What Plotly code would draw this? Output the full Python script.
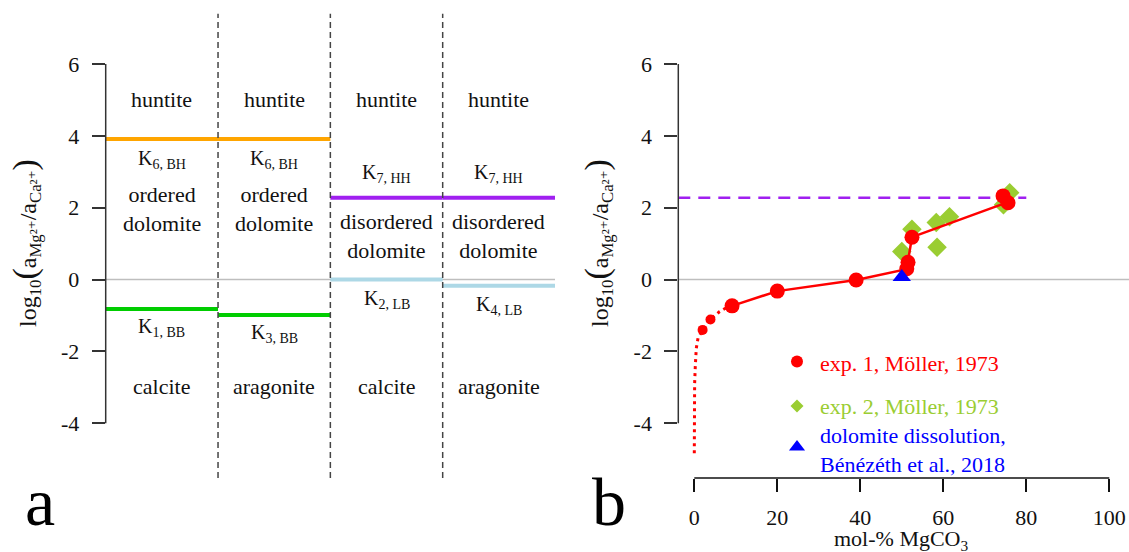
import plotly.graph_objects as go

# ---------------- data ----------------
# Panel a: stability fields
col_edges = [0, 1, 2, 3, 4]
upper_k = [3.91, 3.91, 2.28, 2.28]
upper_colors = ["#FFA500", "#FFA500", "#A020F0", "#A020F0"]
upper_labels = ["K<sub>6, BH</sub>", "K<sub>6, BH</sub>", "K<sub>7, HH</sub>", "K<sub>7, HH</sub>"]
lower_k = [-0.82, -0.985, 0.0, -0.17]
lower_colors = ["#00CD00", "#00CD00", "#ADD8E6", "#ADD8E6"]
lower_labels = ["K<sub>1, BB</sub>", "K<sub>3, BB</sub>", "K<sub>2, LB</sub>", "K<sub>4, LB</sub>"]
top_phase = ["huntite", "huntite", "huntite", "huntite"]
mid_phase = ["ordered<br>dolomite", "ordered<br>dolomite", "disordered<br>dolomite", "disordered<br>dolomite"]
bottom_phase = ["calcite", "aragonite", "calcite", "aragonite"]
y_ticks = [-4, -2, 0, 2, 4, 6]

# Panel b: experiments
exp1_x = [2.0, 3.9, 9.1, 20.0, 39.0, 51.2, 51.5, 52.45, 74.4, 75.6]
exp1_y = [-1.40, -1.11, -0.73, -0.32, -0.01, 0.30, 0.48, 1.18, 2.33, 2.14]
exp1_small = [True, True, False, False, False, False, False, False, False, False]
fit_x = [9.1, 20.0, 39.0, 50.3, 51.4, 52.45, 75.4]
fit_y = [-0.73, -0.32, -0.01, 0.27, 0.45, 1.18, 2.15]
extrap_x = [0.0, 0.03, 0.08, 0.24, 0.48, 0.9, 2.0, 3.9, 6.1, 7.9, 9.1]
extrap_y = [-4.83, -3.6, -2.9, -2.42, -1.91, -1.63, -1.40, -1.11, -0.89, -0.77, -0.73]
exp2_x = [50.0, 52.45, 58.3, 61.5, 58.5, 76.0, 74.5]
exp2_y = [0.78, 1.40, 1.59, 1.75, 0.90, 2.42, 2.08]
diss_x = [50.0]
diss_y = [0.07]
k7_hh = 2.28
k7_xmax = 80
x_ticks = [0, 20, 40, 60, 80, 100]

# ---------------- layout helpers ----------------
W, H = 1129, 552
FONT = "Liberation Serif, Times New Roman, Tinos, DejaVu Serif, serif"
AX = "#333333"
Y_RANGE = [-5.522, 7.782]
X2_RANGE = [-3.855, 104.75]


def px_x(p):
    return p / W


def px_y(p):
    return 1 - p / H


fig = go.Figure()

# ---- panel a ----
fig.add_trace(go.Scatter(x=[col_edges[0], col_edges[-1]], y=[0, 0], mode="lines",
                         line=dict(color="#BEBEBE", width=1.5), xaxis="x", yaxis="y",
                         hoverinfo="skip", showlegend=False))
for i in range(4):
    fig.add_trace(go.Scatter(x=[col_edges[i], col_edges[i + 1]], y=[upper_k[i], upper_k[i]],
                             mode="lines", line=dict(color=upper_colors[i], width=4),
                             xaxis="x", yaxis="y", showlegend=False))
    fig.add_trace(go.Scatter(x=[col_edges[i], col_edges[i + 1]], y=[lower_k[i], lower_k[i]],
                             mode="lines", line=dict(color=lower_colors[i], width=4),
                             xaxis="x", yaxis="y", showlegend=False))
for e in col_edges[1:-1]:
    fig.add_trace(go.Scatter(x=[e, e], y=[Y_RANGE[0], 7.4], mode="lines",
                             line=dict(color="#444444", width=1.5, dash="6px,4px"),
                             xaxis="x", yaxis="y", showlegend=False))

# ---- panel b ----
fig.add_trace(go.Scatter(x=[X2_RANGE[0], X2_RANGE[1]], y=[0, 0], mode="lines",
                         line=dict(color="#BEBEBE", width=1.5), xaxis="x2", yaxis="y2",
                         showlegend=False))
fig.add_trace(go.Scatter(x=[X2_RANGE[0], k7_xmax], y=[k7_hh, k7_hh], mode="lines",
                         line=dict(color="#A020F0", width=2.5, dash="12px,8px"),
                         xaxis="x2", yaxis="y2", showlegend=False))
fig.add_trace(go.Scatter(x=exp2_x, y=exp2_y, mode="markers",
                         marker=dict(symbol="diamond", size=15, color="#9ACD32", opacity=1,
                                     line=dict(width=0)),
                         xaxis="x2", yaxis="y2", showlegend=False))
fig.add_trace(go.Scatter(x=extrap_x, y=extrap_y, mode="lines",
                         line=dict(color="#FF0000", width=3, dash="3px,4px"),
                         xaxis="x2", yaxis="y2", showlegend=False))
fig.add_trace(go.Scatter(x=fit_x, y=fit_y, mode="lines",
                         line=dict(color="#FF0000", width=2.5),
                         xaxis="x2", yaxis="y2", showlegend=False))
fig.add_trace(go.Scatter(x=exp1_x, y=exp1_y, mode="markers",
                         marker=dict(symbol="circle", color="#FF0000", opacity=1,
                                     line=dict(width=0),
                                     size=[10 if s else 15 for s in exp1_small]),
                         xaxis="x2", yaxis="y2", showlegend=False))
fig.add_trace(go.Scatter(x=diss_x, y=diss_y, mode="markers",
                         marker=dict(symbol="triangle-up", size=16, color="#0000FF", opacity=1,
                                     line=dict(width=0)),
                         xaxis="x2", yaxis="y2", showlegend=False))

# legend markers (drawn in panel b)
leg_x = (797 - 694.3) / 4.15
leg_rows = [361.5, 406, 447]
leg_v = [(279.6 - p) / 35.93 for p in leg_rows]
fig.add_trace(go.Scatter(x=[leg_x], y=[leg_v[0]], mode="markers",
                         marker=dict(symbol="circle", size=12, color="#FF0000", line=dict(width=0)),
                         xaxis="x2", yaxis="y2", showlegend=False))
fig.add_trace(go.Scatter(x=[leg_x], y=[leg_v[1]], mode="markers",
                         marker=dict(symbol="diamond", size=10, color="#9ACD32", line=dict(width=0)),
                         xaxis="x2", yaxis="y2", showlegend=False))
fig.add_trace(go.Scatter(x=[leg_x], y=[leg_v[2]], mode="markers",
                         marker=dict(symbol="triangle-up", size=14, color="#0000FF", line=dict(width=0)),
                         xaxis="x2", yaxis="y2", showlegend=False))

# ---- axis lines drawn R-style (only between extreme ticks) ----
shapes = [
    dict(type="line", xref="x domain", x0=0, x1=0, yref="y", y0=y_ticks[0], y1=y_ticks[-1],
         line=dict(color=AX, width=1.5)),
    dict(type="line", xref="x2 domain", x0=0, x1=0, yref="y2", y0=y_ticks[0], y1=y_ticks[-1],
         line=dict(color=AX, width=1.5)),
    dict(type="line", xref="x2", x0=x_ticks[0], x1=x_ticks[-1], yref="y2 domain", y0=0, y1=0,
         line=dict(color="#111111", width=1.5)),
]

annotations = []
tf = dict(family=FONT, size=22, color="#111111")
kf = dict(family=FONT, size=20, color="#111111")
for i in range(4):
    cx = i + 0.5
    annotations.append(dict(x=cx, y=5.0, xref="x", yref="y", text=top_phase[i], showarrow=False, font=tf))
    annotations.append(dict(x=cx, y=1.96 if i < 2 else 1.21, xref="x", yref="y", text=mid_phase[i],
                            showarrow=False, font=tf))
    annotations.append(dict(x=cx, y=-2.97, xref="x", yref="y", text=bottom_phase[i], showarrow=False, font=tf))
    annotations.append(dict(x=cx, y=3.33 if i < 2 else 2.94, xref="x", yref="y", text=upper_labels[i],
                            showarrow=False, font=kf))
    annotations.append(dict(x=cx, y=[-1.32, -1.51, -0.54, -0.71][i], xref="x", yref="y",
                            text=lower_labels[i], showarrow=False, font=kf))

ytitle = ("log<sub>10</sub><span style='font-size:34px'>(</span>a<sub>Mg²⁺</sub>/"
          "a<sub>Ca²⁺</sub><span style='font-size:34px'>)</span>")
for xc in [25, 597]:
    annotations.append(dict(x=px_x(xc), y=px_y(243), xref="paper", yref="paper", text=ytitle,
                            textangle=-90, showarrow=False,
                            font=dict(family=FONT, size=24, color="#111111"),
                            xanchor="center", yanchor="middle"))

annotations.append(dict(x=px_x(901), y=px_y(540), xref="paper", yref="paper", text="mol-% MgCO<sub>3</sub>",
                        showarrow=False, font=tf, xanchor="center", yanchor="middle"))
annotations.append(dict(x=px_x(40), y=px_y(502), xref="paper", yref="paper", text="a",
                        showarrow=False, font=dict(family=FONT, size=68, color="#000000"),
                        xanchor="center", yanchor="middle"))
annotations.append(dict(x=px_x(609), y=px_y(502), xref="paper", yref="paper", text="b",
                        showarrow=False, font=dict(family=FONT, size=68, color="#000000"),
                        xanchor="center", yanchor="middle"))

legend_texts = [("exp. 1, Möller, 1973", "#FF0000", 363),
                ("exp. 2, Möller, 1973", "#9ACD32", 406),
                ("dolomite dissolution,<br>Bénézéth et al., 2018", "#0000FF", 450)]
for txt, col, yy in legend_texts:
    annotations.append(dict(x=px_x(818), y=px_y(yy), xref="paper", yref="paper", text=txt,
                            showarrow=False, xanchor="left", yanchor="middle", align="left",
                            font=dict(family=FONT, size=22, color=col)))

yax = dict(range=Y_RANGE, domain=[px_y(478), 1.0], showgrid=False, zeroline=False, showline=False,
           ticks="outside", ticklen=13, tickwidth=1.5, tickcolor=AX, tickvals=y_ticks,
           ticktext=[str(v) for v in y_ticks], tickfont=dict(family=FONT, size=22, color="#111111"),
           ticklabelstandoff=8, fixedrange=True)

fig.update_layout(
    width=W, height=H, autosize=False,
    font=dict(family=FONT),
    margin=dict(l=0, r=0, t=0, b=0, pad=0),
    paper_bgcolor="white", plot_bgcolor="white",
    showlegend=False,
    xaxis=dict(domain=[px_x(105.7), px_x(555)], range=[0, 4], visible=False, anchor="y"),
    yaxis=dict(anchor="x", **yax),
    xaxis2=dict(domain=[px_x(678.3), 1.0], range=X2_RANGE, anchor="y2", showgrid=False, zeroline=False,
                showline=False, ticks="outside", ticklen=13, tickwidth=1.5, tickcolor="#111111",
                tickvals=x_ticks, ticktext=[str(v) for v in x_ticks],
                tickfont=dict(family=FONT, size=22, color="#111111"), ticklabelstandoff=7),
    yaxis2=dict(anchor="x2", **yax),
    shapes=shapes,
    annotations=annotations,
)

fig.write_html("out.html")
